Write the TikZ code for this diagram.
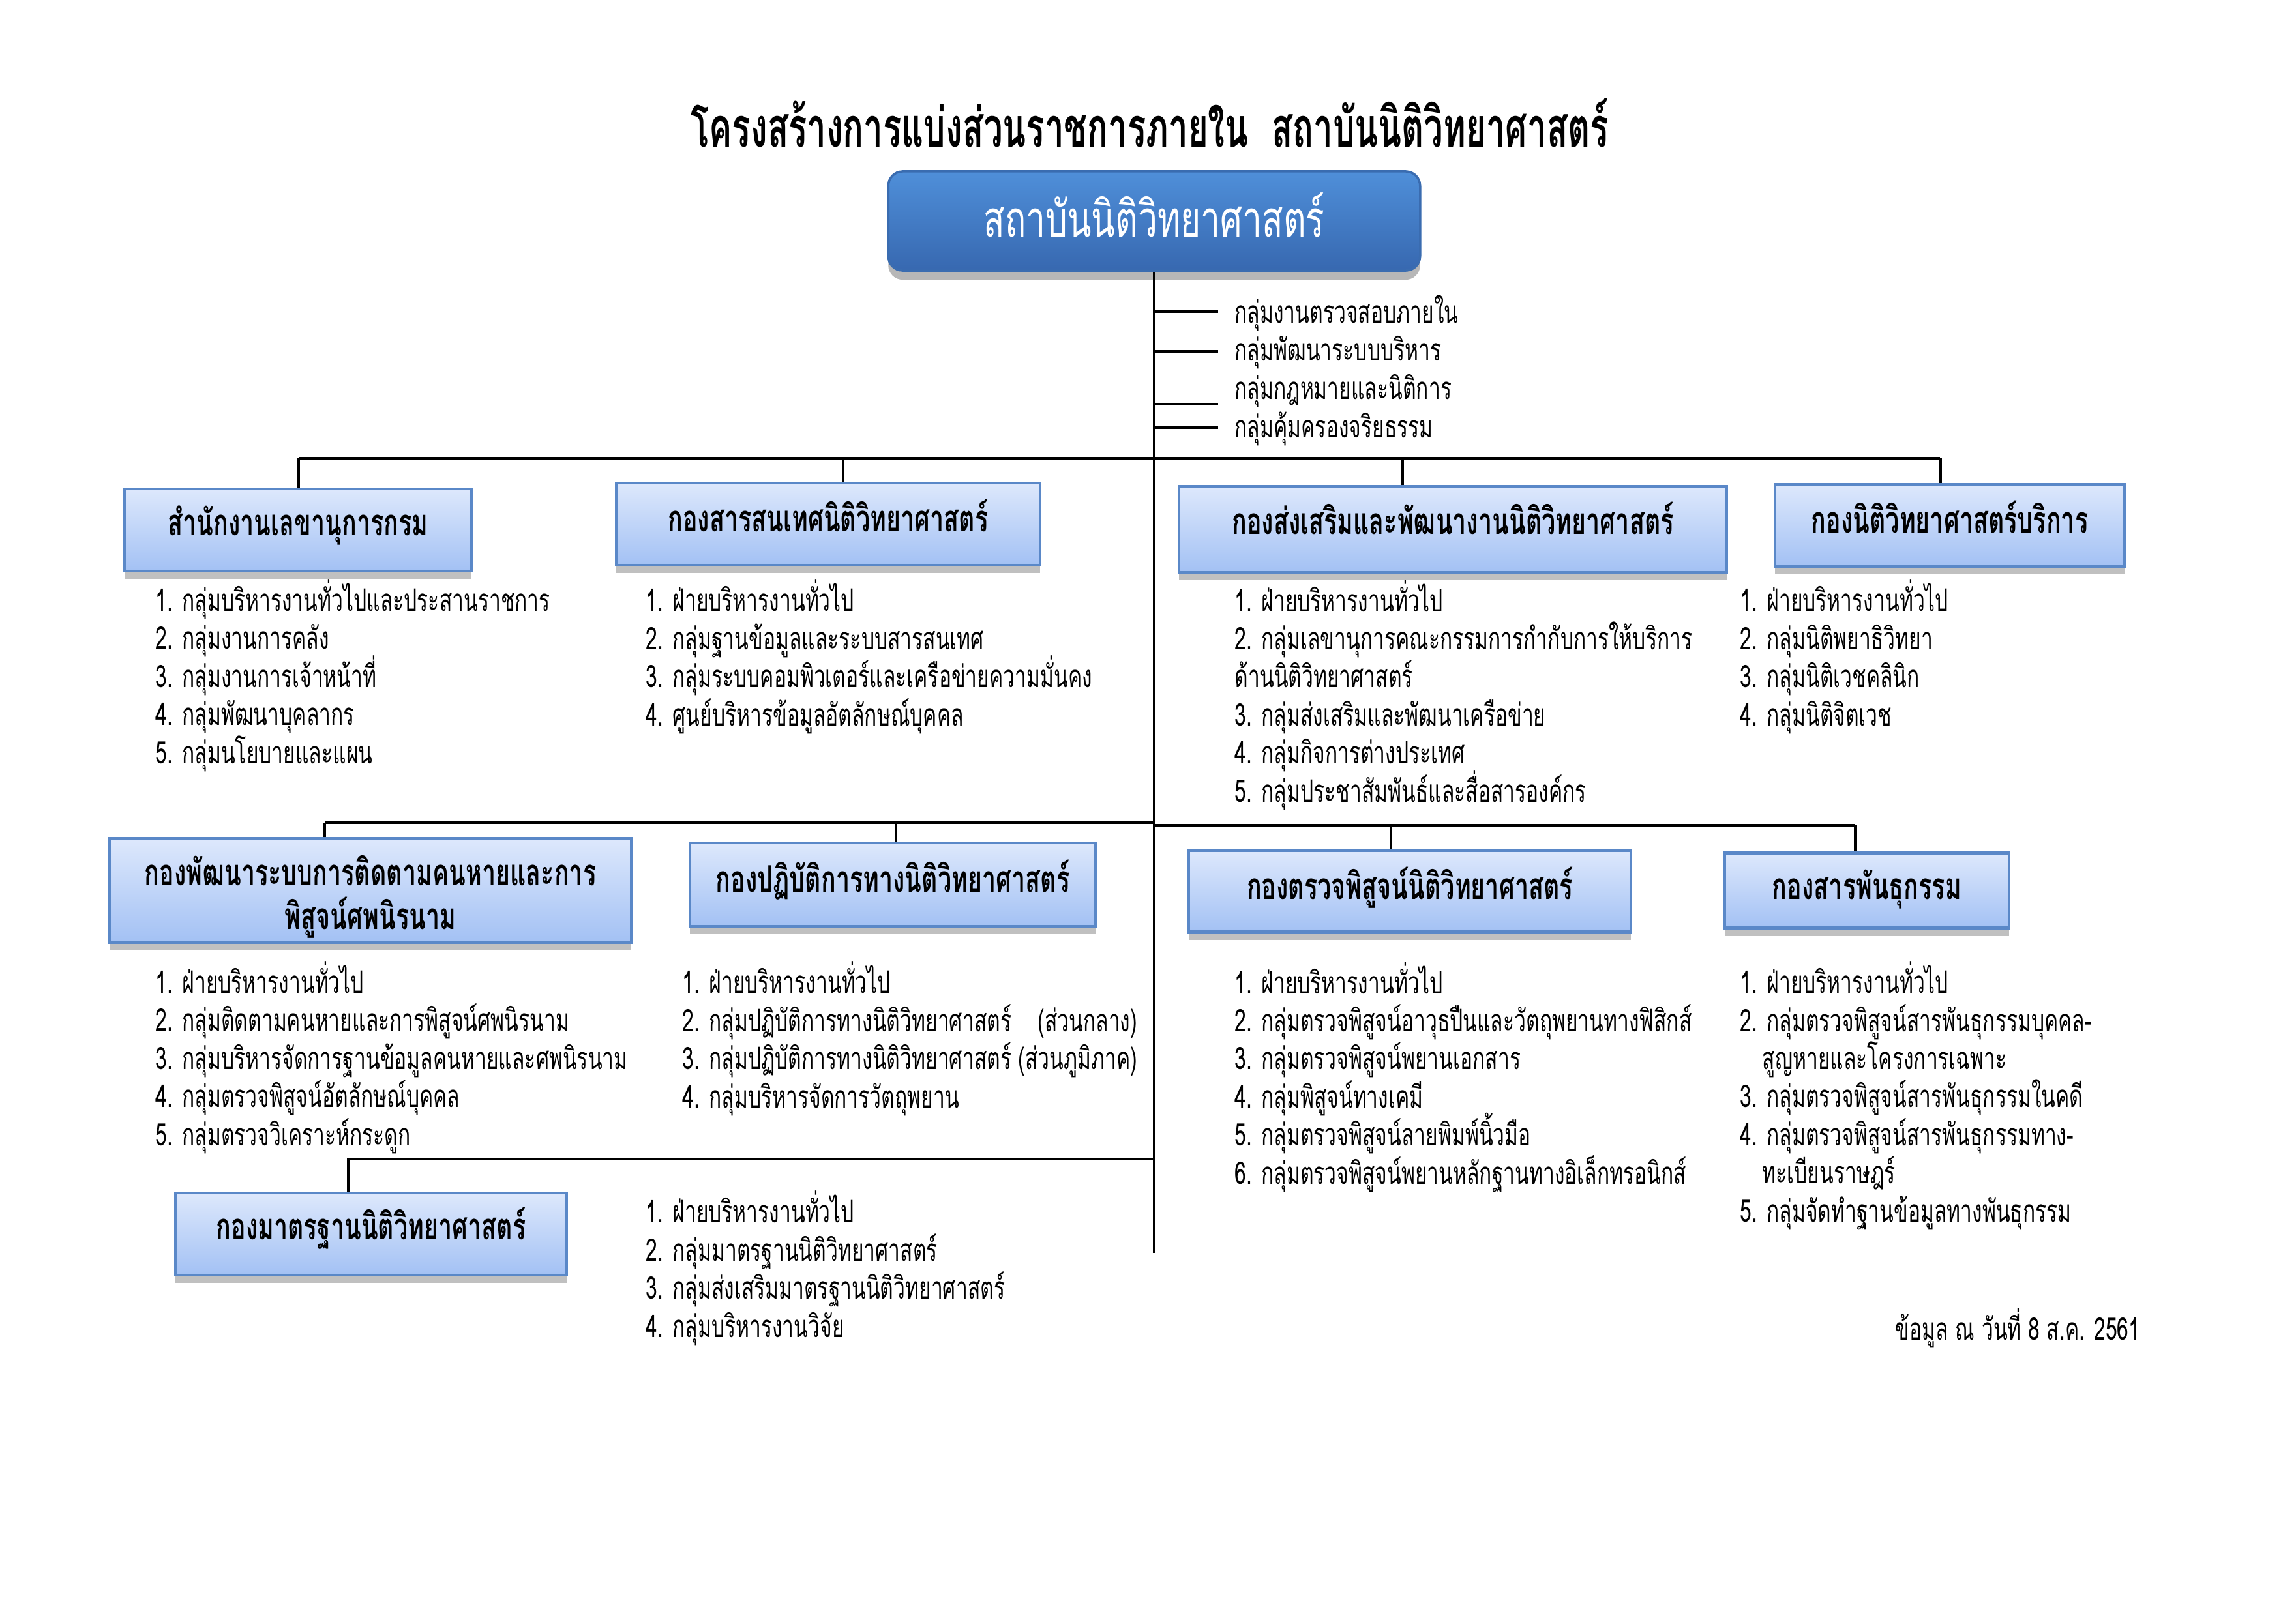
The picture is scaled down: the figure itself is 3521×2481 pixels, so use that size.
\documentclass[tikz,border=0pt]{standalone}
\usepackage{fontspec}
\usepackage{calc}
\usetikzlibrary{shadows}
\newfontfamily\thai[Script=Thai,FakeStretch=0.67]{Loma}
\newfontfamily\thaihead[Script=Thai,FakeStretch=0.69]{Loma}
\newfontfamily\thaititle[Script=Thai,FakeStretch=0.625]{Loma}
\newcommand{\lift}[2]{\raisebox{#1}[\height][\depth]{#2}}
\definecolor{boxtop}{HTML}{DDE8FC}
\definecolor{boxbot}{HTML}{A3C1F4}
\definecolor{boxline}{HTML}{5A88C8}
\definecolor{headtop}{HTML}{4F8FD9}
\definecolor{headbot}{HTML}{3768B0}
\definecolor{headline}{HTML}{3A6CB0}
\tikzset{
  unitbox/.style={draw=boxline, line width=1.2pt, top color=boxtop, bottom color=boxbot,
    inner sep=0pt, align=center, font=\thai\fontsize{16}{19}\selectfont\bfseries,
    drop shadow={shadow xshift=0pt, shadow yshift=-3.5pt, opacity=0.35, fill=black!70}},
  headbox/.style={draw=headline, line width=1pt, rounded corners=0.22cm, top color=headtop, bottom color=headbot,
    inner sep=0pt, align=center, text=white, font=\thaihead\fontsize{22}{26}\selectfont,
    drop shadow={shadow xshift=0pt, shadow yshift=-4pt, opacity=0.4, fill=black!70}},
  listtext/.style={anchor=base west, inner sep=0pt, align=left, font=\thai\fontsize{13.5}{16.6}\selectfont,
    execute at begin node={\lineskiplimit=-20pt\relax}},
  sidetext/.style={anchor=west, inner xsep=0.25cm, inner ysep=0pt, font=\thai\fontsize{13.5}{16.6}\selectfont},
  conn/.style={line width=1.4pt, black},
}
\begin{document}
\begin{tikzpicture}[x=0.01cm, y=-0.01cm]
\fill[white] (0,0) rectangle (3521,2481);
\useasboundingbox (0,0) rectangle (3521,2481);

% title
\node[font=\thaititle\fontsize{24}{28}\selectfont\bfseries] (title) at (1763,189)
  {โครงสร้างการแบ่งส่วนราชการภายใน\ \ สถาบันนิติวิทยาศาสตร์};

% head box
\node[headbox, minimum width=8.15cm, minimum height=1.52cm] (head) at (1770,339) {\lift{0.09cm}{สถาบันนิติวิทยาศาสตร์}};

% trunk
\coordinate (trunkend) at (1770,1922);
\draw[conn] (head.south) -- (trunkend);

% side groups
\node[sidetext] (s1) at (1868,480) {กลุ่มงานตรวจสอบภายใน};
\node[sidetext] (s2) at (1868,541) {กลุ่มพัฒนาระบบบริหาร};
\node[sidetext] (s3) at (1868,600) {กลุ่มกฎหมายและนิติการ};
\node[sidetext] (s4) at (1868,658) {กลุ่มคุ้มครองจริยธรรม};
\coordinate (l1) at (1770,478);
\coordinate (l2) at (1770,539);
\coordinate (l3) at (1770,620);
\coordinate (l3e) at (1868,620);
\coordinate (l4) at (1770,656);
\draw[conn] (l1) -- (l1 -| s1.west);
\draw[conn] (l2) -- (l2 -| s2.west);
\draw[conn] (l3) -- (l3e);
\draw[conn] (l4) -- (l4 -| s4.west);

% row 1 boxes
\node[unitbox, minimum width=5.32cm, minimum height=1.26cm] (b1) at (457,813) {\lift{0.07cm}{สำนักงานเลขานุการกรม}};
\node[unitbox, minimum width=6.49cm, minimum height=1.26cm] (b2) at (1270,804) {\lift{0.13cm}{กองสารสนเทศนิติวิทยาศาสตร์}};
\node[unitbox, minimum width=8.39cm, minimum height=1.32cm] (b3) at (2228,812) {\lift{0.17cm}{กองส่งเสริมและพัฒนางานนิติวิทยาศาสตร์}};
\node[unitbox, minimum width=5.36cm, minimum height=1.26cm] (b4) at (2990,806) {\lift{0.13cm}{กองนิติวิทยาศาสตร์บริการ}};

\coordinate (bus1a) at (458,703);
\coordinate (bus1b) at (2975,703);
\coordinate (d12) at (1293,703);
\coordinate (d13) at (2151,703);
\draw[conn] (bus1a) -- (bus1b);
\draw[conn] (bus1a) -- (bus1a |- b1.north);
\draw[conn] (d12) -- (d12 |- b2.north);
\draw[conn] (d13) -- (d13 |- b3.north);
\draw[conn] (bus1b) -- (bus1b |- b4.north);

% row 1 lists (anchor = baseline of last line; spacing 58.56)
\node[listtext] (list1) at (238,1171) {1. กลุ่มบริหารงานทั่วไปและประสานราชการ\\2. กลุ่มงานการคลัง\\3. กลุ่มงานการเจ้าหน้าที่\\4. กลุ่มพัฒนาบุคลากร\\5. กลุ่มนโยบายและแผน};
\node[listtext] (list2) at (990,1113) {1. ฝ่ายบริหารงานทั่วไป\\2. กลุ่มฐานข้อมูลและระบบสารสนเทศ\\3. กลุ่มระบบคอมพิวเตอร์และเครือข่ายความมั่นคง\\4. ศูนย์บริหารข้อมูลอัตลักษณ์บุคคล};
\node[listtext] (list3) at (1893,1230) {1. ฝ่ายบริหารงานทั่วไป\\2. กลุ่มเลขานุการคณะกรรมการกำกับการให้บริการ\\ด้านนิติวิทยาศาสตร์\\3. กลุ่มส่งเสริมและพัฒนาเครือข่าย\\4. กลุ่มกิจการต่างประเทศ\\5. กลุ่มประชาสัมพันธ์และสื่อสารองค์กร};
\node[listtext] (list4) at (2668,1113) {1. ฝ่ายบริหารงานทั่วไป\\2. กลุ่มนิติพยาธิวิทยา\\3. กลุ่มนิติเวชคลินิก\\4. กลุ่มนิติจิตเวช};

% row 2 boxes
\node[unitbox, minimum width=8.00cm, minimum height=1.59cm] (c1) at (568,1366) {\lift{-0.1cm}{กองพัฒนาระบบการติดตามคนหายและการ}\\\lift{-0.1cm}{พิสูจน์ศพนิรนาม}};
\node[unitbox, minimum width=6.22cm, minimum height=1.28cm] (c2) at (1369,1357) {\lift{0.07cm}{กองปฏิบัติการทางนิติวิทยาศาสตร์}};
\node[unitbox, minimum width=6.78cm, minimum height=1.25cm] (c3) at (2162,1367) {\lift{0.05cm}{กองตรวจพิสูจน์นิติวิทยาศาสตร์}};
\node[unitbox, minimum width=4.36cm, minimum height=1.15cm] (c4) at (2863,1366) {\lift{0.02cm}{กองสารพันธุกรรม}};

\coordinate (bus2a) at (498,1262);
\coordinate (bus2m) at (1770,1262);
\coordinate (bus2n) at (1770,1266);
\coordinate (bus2b) at (2845,1266);
\coordinate (d22) at (1374,1262);
\coordinate (d23) at (2133,1266);
\draw[conn] (bus2a) -- (bus2m);
\draw[conn] (bus2n) -- (bus2b);
\draw[conn] (bus2a) -- (bus2a |- c1.north);
\draw[conn] (d22) -- (d22 |- c2.north);
\draw[conn] (d23) -- (d23 |- c3.north);
\draw[conn] (bus2b) -- (bus2b |- c4.north);

% row 2 lists
\node[listtext] (mlist1) at (238,1757) {1. ฝ่ายบริหารงานทั่วไป\\2. กลุ่มติดตามคนหายและการพิสูจน์ศพนิรนาม\\3. กลุ่มบริหารจัดการฐานข้อมูลคนหายและศพนิรนาม\\4. กลุ่มตรวจพิสูจน์อัตลักษณ์บุคคล\\5. กลุ่มตรวจวิเคราะห์กระดูก};
\node[listtext] (mlist2) at (1046,1699) {1. ฝ่ายบริหารงานทั่วไป\\\makebox[\widthof{3. กลุ่มปฏิบัติการทางนิติวิทยาศาสตร์ (ส่วนภูมิภาค)}][l]{2. กลุ่มปฏิบัติการทางนิติวิทยาศาสตร์\hfill(ส่วนกลาง)}\\3. กลุ่มปฏิบัติการทางนิติวิทยาศาสตร์ (ส่วนภูมิภาค)\\4. กลุ่มบริหารจัดการวัตถุพยาน};
\node[listtext] (mlist3) at (1893,1816) {1. ฝ่ายบริหารงานทั่วไป\\2. กลุ่มตรวจพิสูจน์อาวุธปืนและวัตถุพยานทางฟิสิกส์\\3. กลุ่มตรวจพิสูจน์พยานเอกสาร\\4. กลุ่มพิสูจน์ทางเคมี\\5. กลุ่มตรวจพิสูจน์ลายพิมพ์นิ้วมือ\\6. กลุ่มตรวจพิสูจน์พยานหลักฐานทางอิเล็กทรอนิกส์};
\node[listtext] (mlist4) at (2668,1874) {1. ฝ่ายบริหารงานทั่วไป\\2. กลุ่มตรวจพิสูจน์สารพันธุกรรมบุคคล-\\\hspace*{0.34cm}สูญหายและโครงการเฉพาะ\\3. กลุ่มตรวจพิสูจน์สารพันธุกรรมในคดี\\4. กลุ่มตรวจพิสูจน์สารพันธุกรรมทาง-\\\hspace*{0.34cm}ทะเบียนราษฎร์\\5. กลุ่มจัดทำฐานข้อมูลทางพันธุกรรม};

% row 3
\node[unitbox, minimum width=6.00cm, minimum height=1.26cm] (d1) at (569,1893) {\lift{0.09cm}{กองมาตรฐานนิติวิทยาศาสตร์}};
\coordinate (bus3a) at (534,1778);
\coordinate (bus3b) at (1770,1778);
\draw[conn] (bus3b) -- (bus3a) -- (bus3a |- d1.north);
\node[listtext] (dlist) at (990,2051) {1. ฝ่ายบริหารงานทั่วไป\\2. กลุ่มมาตรฐานนิติวิทยาศาสตร์\\3. กลุ่มส่งเสริมมาตรฐานนิติวิทยาศาสตร์\\4. กลุ่มบริหารงานวิจัย};

% footnote
\node[anchor=base east, inner sep=0pt, font=\thai\fontsize{13.5}{16.6}\selectfont] (note) at (3283,2055) {ข้อมูล ณ วันที่ 8 ส.ค. 2561};
\end{tikzpicture}
\end{document}
